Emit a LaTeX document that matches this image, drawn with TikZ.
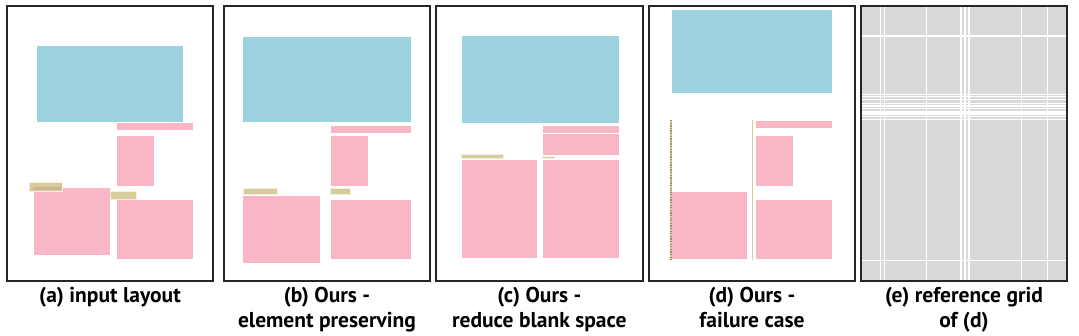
\documentclass[tikz,border=0pt]{standalone}
\usepackage{fontspec}
\setmainfont{PT Sans}
\definecolor{cblue}{RGB}{157,211,224}
\definecolor{cpink}{RGB}{249,183,197}
\definecolor{ckhaki}{RGB}{214,204,154}
\definecolor{covl}{RGB}{214,178,148}
\definecolor{cgrid}{RGB}{217,217,217}
\definecolor{cdot}{RGB}{160,150,120}
\definecolor{cdotb}{RGB}{170,130,120}
\tikzset{
  panel/.style={draw=black!85, line width=2pt},
  blu/.style={fill=cblue, draw=white, line width=0.6pt},
  pnk/.style={fill=cpink, draw=white, line width=0.6pt},
  kha/.style={fill=ckhaki, draw=white!70!ckhaki, line width=0.4pt},
  gline/.style={draw=white, line width=1.1pt},
  captext/.style={font=\bfseries\fontsize{21.5}{25}\selectfont, align=center, anchor=north, inner sep=0pt}
}
\begin{document}
\begin{tikzpicture}[x=1pt,y=-1pt]
\useasboundingbox (0,0) rectangle (1079,335);
\fill[white] (0,0) rectangle (1079,335);
% ---------- (a)
\fill[blu] (36,45) rectangle (183.7,122);
\fill[pnk] (116,122) rectangle (193.3,130.7);
\fill[pnk] (116,135.3) rectangle (154.7,186.7);
\fill[pnk] (33,187) rectangle (110,255.3);
\fill[pnk] (116,199.3) rectangle (193.3,259.3);
\fill[kha] (29.3,182.3) rectangle (61.7,190.7);
\fill[covl] (33.3,187.3) rectangle (61.4,190.4);
\fill[kha] (110,191) rectangle (135.7,199.3);
\draw[panel] (7,6) rectangle (213,281);
% ---------- (b)
\fill[blu] (242.3,36) rectangle (411,122);
\fill[pnk] (330,125) rectangle (411.3,133.3);
\fill[pnk] (330,135) rectangle (368.3,186.7);
\fill[kha] (242.7,188.3) rectangle (277.3,193.7);
\fill[kha] (330,188.3) rectangle (349.7,193.7);
\fill[pnk] (242.7,195) rectangle (320.3,263.7);
\fill[pnk] (330,199) rectangle (411.3,259);
\draw[panel] (224,6) rectangle (430,281);
% ---------- (c)
\fill[blu] (461.3,35) rectangle (619,123);
\fill[pnk] (542.3,125) rectangle (619,133);
\fill[pnk] (542.3,133.7) rectangle (619,155.7);
\fill[kha] (461,153.7) rectangle (503.3,157.7);
\fill[kha] (542.3,156) rectangle (554,157.7);
\fill[pnk] (461,159.3) rectangle (537.7,258.7);
\fill[pnk] (542.3,159.3) rectangle (619,258.7);
\draw[panel] (436,6) rectangle (642.7,281);
% ---------- (d)
\fill[blu] (671,9) rectangle (832.3,93);
\fill[pnk] (755.7,120) rectangle (832.7,128.3);
\fill[pnk] (755,135) rectangle (793.3,186);
\fill[pnk] (671.7,191) rectangle (747.3,259.7);
\fill[pnk] (755.7,199.7) rectangle (832.7,259.7);
\fill[ckhaki] (669.8,120) rectangle (672.2,260.3);
\draw[cdot, line width=2.2pt, dash pattern=on 1.3pt off 1.3pt] (671,120) -- (671,191);
\draw[cdotb, line width=2.2pt, dash pattern=on 1.3pt off 1.3pt] (671,191.5) -- (671,260.3);
\fill[ckhaki] (751.8,120) rectangle (752.9,260);
\draw[panel] (648.7,6) rectangle (855.3,281);
% ---------- (e)
\fill[cgrid] (862,7) rectangle (1066,280);
\foreach \gx in {880.7,884.3,926.3,961,965,969,1021.7,1047.3}
  \draw[gline] (\gx,7) -- (\gx,280);
\foreach \gy in {36,94.7,96.7,99.3,103.3,106,108.7,112,114,116.7,119.3,260.7}
  \draw[gline] (862,\gy) -- (1066,\gy);
\draw[panel] (861,6) rectangle (1067,281);
% ---------- captions
\node[captext] (capa) at (110,286.5) {(a) input layout};
\node[captext] (capb) at (327,286.5) {(b) Ours -\\element preserving};
\node[captext] (capc) at (539.3,286.5) {(c) Ours -\\reduce blank space};
\node[captext] (capd) at (752,286.5) {(d) Ours -\\failure case};
\node[captext] (cape) at (964,286.5) {(e) reference grid\\of (d)};
\end{tikzpicture}
\end{document}
